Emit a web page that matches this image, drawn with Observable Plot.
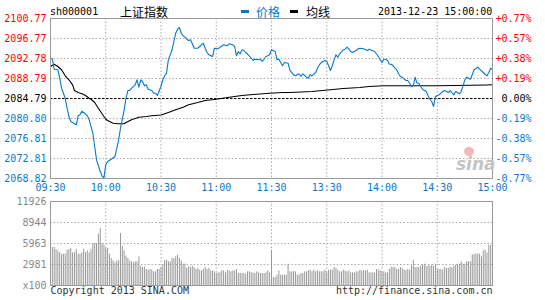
<!DOCTYPE html>
<html><head><meta charset="utf-8">
<script src="https://cdn.jsdelivr.net/npm/d3@7"></script>
<script src="https://cdn.jsdelivr.net/npm/@observablehq/plot@0.6"></script>
<style>
body{margin:0;background:#fff;}
#c{position:relative;width:545px;height:300px;overflow:hidden;background:#fff;font-family:"DejaVu Sans Mono",monospace;}
#c svg{position:absolute;left:0;}
.a{position:absolute;white-space:nowrap;line-height:12px;}
</style></head><body><div id="c"></div>
<script>
// ---- data ----
const code = "sh000001";
const name = "上证指数";
const stamp = "2013-12-23 15:00:00";
const basePrice = 2084.79;
const priceTicks = [2100.77, 2096.77, 2092.78, 2088.79, 2084.79, 2080.80, 2076.81, 2072.81, 2068.82];
const pctLabels = ["+0.77%", "+0.57%", "+0.38%", "+0.19%", "0.00%", "-0.19%", "-0.38%", "-0.57%", "-0.77%"];
const timeTicks = [0, 30, 60, 90, 120, 150, 180, 210, 240];
const timeLabels = ["09:30", "10:00", "10:30", "11:00", "11:30", "13:30", "14:00", "14:30", "15:00"];
const volTicks = [0, 2981, 5963, 8944, 11926];
const volLabels = ["x100", "2981", "5963", "8944", "11926"];

const priceMinute = [0,1,2,4,5,6,8,9,10,11,12,14,15,16,17,18,19,20,21,23,24,25,27,28,29,30,31,33,35,36,37,38,40,41,42,43,44,46,47,48,49,50,51,52,53,55,56,57,58,60,61,62,63,64,66,67,68,69,70,71,72,73,74,75,76,77,78,80,81,83,84,85,86,88,89,91,92,94,96,97,99,100,101,102,103,104,105,106,108,109,110,111,113,114,115,117,118,119,120,122,123,124,126,127,129,130,132,133,135,136,137,139,140,141,142,144,145,146,147,149,150,151,152,153,154,155,156,157,159,160,161,162,163,164,166,167,168,170,172,173,175,176,177,178,179,180,181,182,183,184,185,186,188,189,190,191,193,194,195,196,197,198,199,200,201,202,204,205,206,207,208,209,211,213,214,216,217,219,220,222,223,224,225,226,228,229,230,232,233,235,237,238,239,240];
const priceValue = [2092.72,2092.72,2090.65,2090.53,2088.85,2086.85,2084.85,2082.86,2081.20,2080.20,2080.00,2079.54,2081.34,2081.54,2082.26,2082.00,2081.74,2081.34,2080.54,2077.86,2075.21,2072.55,2070.22,2069.36,2068.88,2071.55,2072.21,2072.67,2073.21,2074.87,2076.55,2078.86,2082.54,2084.85,2086.39,2086.39,2086.85,2087.53,2088.53,2087.05,2088.53,2088.19,2087.33,2087.53,2086.65,2086.39,2085.85,2085.85,2085.39,2087.19,2088.53,2089.33,2089.85,2092.52,2094.52,2096.18,2097.83,2098.63,2098.97,2097.83,2097.32,2097.04,2096.64,2096.38,2096.52,2095.72,2094.84,2094.84,2095.18,2095.84,2094.84,2093.98,2093.52,2093.18,2094.84,2094.72,2095.04,2095.52,2095.32,2095.72,2095.52,2095.18,2093.32,2094.18,2093.72,2094.52,2094.38,2093.98,2093.32,2092.84,2092.38,2092.64,2092.52,2092.64,2092.18,2093.18,2093.32,2093.52,2094.52,2094.18,2092.52,2092.64,2091.33,2091.98,2091.84,2090.39,2089.53,2089.33,2089.73,2089.19,2089.73,2089.05,2088.85,2089.53,2089.33,2089.99,2090.85,2091.52,2091.98,2092.38,2092.18,2091.33,2090.39,2091.33,2092.52,2093.52,2093.04,2093.72,2094.52,2094.64,2095.04,2094.64,2094.18,2093.98,2094.38,2094.72,2094.84,2094.72,2094.38,2094.64,2094.32,2094.18,2093.72,2093.18,2092.52,2091.98,2092.64,2092.64,2092.38,2091.64,2091.64,2091.33,2090.53,2089.73,2089.19,2089.05,2088.39,2088.39,2087.85,2087.19,2087.33,2089.05,2087.85,2087.85,2087.19,2086.65,2086.19,2085.33,2084.65,2084.19,2083.20,2085.19,2085.53,2086.19,2086.39,2085.99,2086.39,2085.53,2086.19,2085.73,2086.19,2087.33,2088.53,2089.05,2088.65,2089.53,2090.53,2091.05,2090.65,2089.99,2089.33,2089.99,2090.85,2090.65];

const avgMinute = [0,2,4,6,8,10,12,13,15,17,19,21,22,24,26,28,30,32,34,37,40,41,44,48,52,55,60,64,68,72,75,80,84,90,97,104,112,119,126,130,142,152,159,168,173,181,210,237,240];
const avgValue = [2091.18,2091.64,2091.18,2090.53,2089.33,2088.53,2087.53,2086.39,2085.99,2085.73,2085.39,2084.85,2084.65,2083.99,2082.86,2081.74,2080.66,2080.20,2079.86,2079.74,2079.74,2080.00,2080.54,2081.06,2081.20,2081.34,2081.50,2082.00,2082.54,2083.06,2083.54,2083.99,2084.39,2084.65,2085.05,2085.39,2085.65,2085.85,2085.99,2085.99,2086.19,2086.53,2086.79,2086.99,2087.19,2087.33,2087.33,2087.49,2087.53];

// volume (x100), one per minute 0..240
const volume = [6580,5400,5400,5110,4920,4640,4450,4450,4450,5020,5110,5250,4640,4640,5110,4450,4450,4640,5110,4640,4920,4640,5110,5960,5960,5960,7290,8090,5960,5730,5250,5250,4450,3830,3500,3200,3500,3500,7380,5590,4920,4170,3830,3500,3360,3220,3360,3360,4070,2750,2560,2650,2270,2180,2270,2180,1940,1940,2270,2270,2560,2890,3500,3600,3360,3360,3830,3830,4070,4310,3830,3500,3030,3030,2410,2650,2560,2750,2560,2270,2410,2180,2080,2270,2560,2270,2410,2080,2080,1940,1700,1800,1800,2080,2080,1800,2180,2080,1940,2080,2080,2270,1700,1700,1700,1700,1610,1940,1940,1800,1800,1700,1940,1800,1700,1700,1700,1800,2080,1800,5020,1140,1140,1470,2080,1470,1470,1470,1470,3030,1940,1940,1940,1940,1470,1470,1700,1700,1940,1940,2080,2180,1940,2180,1940,2080,1940,1940,1940,2180,1800,2180,2180,2180,2560,2410,2180,1940,1940,2180,2080,1940,2080,1800,1800,1800,1940,1940,2180,2080,2080,2080,2180,1800,1800,1800,1800,2270,2180,2080,1940,1940,1800,1800,2270,2560,2560,2560,2270,2270,2560,2410,2180,2180,2270,2180,2750,3600,2560,2560,2560,2750,2890,3030,2750,2750,2750,2890,2750,3030,2270,2270,2270,2180,2560,2410,2410,2560,2560,2750,2890,2890,3030,3360,3030,3030,3360,3360,3360,4310,4450,4450,4450,4450,4070,4920,5020,4640,5730,5730,6340];

// ---- styling ----
const BLUE = "#0a78c8", RED = "#ff0000", GRID = "#aaaaaa", FRAME = "#999999";
const priceRows = priceMinute.map((m, i) => ({m, p: priceValue[i]}));
const avgRows = avgMinute.map((m, i) => ({m, p: avgValue[i]}));
const tickColor = v => v > basePrice + 1e-6 ? RED : (v < basePrice - 1e-6 ? BLUE : "#000");
const font = {fontFamily: "'DejaVu Sans Mono', monospace", fontSize: "10px", background: "transparent", overflow: "visible"};

const pricePlot = Plot.plot({
  width: 545, height: 195,
  marginTop: 18, marginBottom: 17, marginLeft: 50, marginRight: 53,
  x: {domain: [0, 240], axis: null},
  y: {domain: [priceTicks[priceTicks.length - 1], priceTicks[0]], axis: null},
  color: {type: "identity"},
  style: font,
  marks: [
    Plot.ruleY(priceTicks.filter(v => v !== basePrice), {stroke: GRID, strokeDasharray: "1.5,2"}),
    Plot.ruleX(timeTicks, {stroke: GRID, strokeDasharray: "1.5,2"}),
    Plot.ruleY([basePrice], {stroke: "#000", strokeDasharray: "2.5,1.5"}),
    Plot.line(avgRows, {x: "m", y: "p", stroke: "#000", strokeWidth: 1.1}),
    Plot.line(priceRows, {x: "m", y: "p", stroke: BLUE, strokeWidth: 1.1}),
    Plot.frame({stroke: FRAME}),
    Plot.text(priceTicks, {y: d => d, frameAnchor: "left", textAnchor: "end", dx: -4, text: d => d.toFixed(2), fill: d => tickColor(d)}),
    Plot.text(priceTicks, {y: d => d, frameAnchor: "right", textAnchor: "end", dx: 39, text: (d, i) => pctLabels[i], fill: d => tickColor(d)}),
    Plot.text(timeTicks, {x: d => d, frameAnchor: "bottom", dy: 12, text: (d, i) => timeLabels[i], fill: BLUE})
  ]
});
pricePlot.style.top = "0px";

const volPlot = Plot.plot({
  width: 545, height: 105,
  marginTop: 6, marginBottom: 15, marginLeft: 50, marginRight: 53,
  x: {domain: [0, 240], axis: null},
  y: {domain: [0, volTicks[volTicks.length - 1]], axis: null},
  style: font,
  marks: [
    Plot.ruleY(volTicks.slice(1, -1), {stroke: GRID, strokeDasharray: "1.5,2"}),
    Plot.ruleX(timeTicks, {stroke: GRID, strokeDasharray: "1.5,2"}),
    Plot.ruleX(volume, {x: (d, i) => i, y1: 0, y2: d => d, stroke: "#999"}),
    Plot.frame({stroke: FRAME}),
    Plot.text(volTicks, {y: d => d, frameAnchor: "left", textAnchor: "end", dx: -4, text: (d, i) => volLabels[i], fill: "#888"}),
    Plot.text(["Copyright 2013 SINA.COM"], {frameAnchor: "bottom-left", textAnchor: "start", dy: 8, text: d => d, fill: "#333"}),
    Plot.text(["http://finance.sina.com.cn"], {frameAnchor: "bottom-right", textAnchor: "end", dy: 8, text: d => d, fill: "#333"})
  ]
});
volPlot.style.top = "195px";

const c = document.getElementById("c");
c.appendChild(pricePlot);
c.appendChild(volPlot);

// header & legend
const cjk = "'Noto Sans CJK SC', sans-serif";
c.insertAdjacentHTML("beforeend", `
<div class="a" style="left:50px;top:6px;font-size:10px;color:#000">${code}</div>
<div class="a" style="left:120px;top:6px;font-size:12px;font-family:${cjk};color:#000">${name}</div>
<div class="a" style="left:241px;top:10px;width:8px;height:3px;background:${BLUE}"></div>
<div class="a" style="left:256px;top:6px;font-size:12px;font-family:${cjk};color:${BLUE}">价格</div>
<div class="a" style="left:290px;top:10px;width:8px;height:3px;background:#000"></div>
<div class="a" style="left:306px;top:6px;font-size:12px;font-family:${cjk};color:#000">均线</div>
<div class="a" style="left:378px;top:6px;font-size:10px;color:#000">${stamp}</div>
<div class="a" style="left:464px;top:147px;width:10px;height:9px;border-radius:50%;background:#f4b6b6"></div>
<div class="a" style="left:456px;top:156px;font-size:17px;line-height:17px;font-style:italic;font-weight:bold;font-family:'DejaVu Sans',sans-serif;color:#c4c4c4">sina</div>
`);
</script></body></html>
